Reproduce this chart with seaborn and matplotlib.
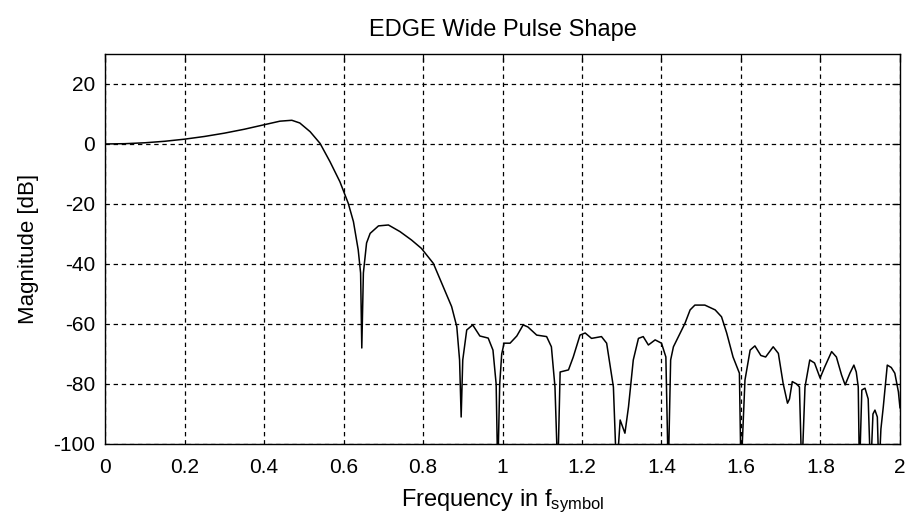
import seaborn as sns
import matplotlib.pyplot as plt
import numpy as np

# frequency (in f_symbol) and magnitude (dB)
freq = [0.00, 0.05, 0.10, 0.15, 0.20, 0.25, 0.30, 0.35, 0.40, 0.44, 0.47, 0.49,
        0.516, 0.541, 0.566, 0.591, 0.612, 0.625, 0.637, 0.643, 0.646, 0.650,
        0.658, 0.667, 0.688, 0.713, 0.742, 0.771, 0.796, 0.826, 0.851, 0.872,
        0.885, 0.892, 0.896, 0.900, 0.910, 0.925, 0.943, 0.964, 0.976, 0.984,
        0.988, 0.993, 0.998, 1.004, 1.019, 1.036, 1.052, 1.064, 1.086, 1.111,
        1.123, 1.132, 1.139, 1.145, 1.166, 1.178, 1.195, 1.208, 1.224, 1.249,
        1.262, 1.279, 1.287, 1.296, 1.308, 1.317, 1.329, 1.342, 1.354, 1.367,
        1.384, 1.400, 1.411, 1.417, 1.423, 1.430, 1.447, 1.459, 1.472, 1.484,
        1.509, 1.535, 1.551, 1.564, 1.580, 1.596, 1.600, 1.610, 1.623, 1.635,
        1.650, 1.662, 1.681, 1.694, 1.706, 1.717, 1.722, 1.729, 1.740, 1.747,
        1.753, 1.761, 1.773, 1.785, 1.799, 1.811, 1.828, 1.840, 1.853, 1.862,
        1.874, 1.884, 1.890, 1.895, 1.898, 1.904, 1.912, 1.920, 1.926, 1.932,
        1.937, 1.943, 1.947, 1.952, 1.958, 1.968, 1.978, 1.987, 1.996, 2.000]
mag_db = [0.0, 0.1, 0.4, 0.9, 1.6, 2.5, 3.6, 4.9, 6.4, 7.6, 7.9, 7.0,
          4.1, 0.2, -5.9, -12.6, -19.8, -25.9, -35.3, -43.0, -68.0, -43.0,
          -33.0, -29.8, -27.3, -27.0, -29.2, -32.0, -34.8, -39.8, -47.6, -54.2,
          -60.9, -72.0, -91.0, -72.0, -62.0, -60.3, -64.0, -64.7, -68.7, -80.0,
          -110.0, -80.0, -70.0, -66.4, -66.4, -64.0, -60.3, -61.0, -63.7, -64.2,
          -67.6, -81.0, -110.0, -76.0, -75.3, -71.0, -63.7, -63.0, -64.8, -64.2,
          -66.4, -81.0, -110.0, -92.0, -96.4, -87.6, -72.0, -64.8, -64.2, -67.0,
          -65.3, -66.4, -71.0, -110.0, -72.0, -67.6, -63.0, -59.8, -55.3, -53.7,
          -53.7, -55.3, -57.6, -63.0, -71.0, -76.4, -110.0, -78.7, -68.7, -67.3,
          -70.5, -71.0, -67.6, -69.8, -79.8, -86.4, -85.0, -79.2, -80.0, -81.0,
          -110.0, -81.0, -72.0, -73.0, -78.0, -74.2, -69.2, -71.0, -77.0, -80.3,
          -76.4, -73.7, -76.0, -81.0, -110.0, -82.0, -81.4, -85.0, -110.0, -90.0,
          -88.7, -91.0, -110.0, -95.0, -87.6, -73.7, -74.5, -76.4, -82.6, -88.0]

xticks = [0, 0.2, 0.4, 0.6, 0.8, 1, 1.2, 1.4, 1.6, 1.8, 2]
xticklabels = ["0", "0.2", "0.4", "0.6", "0.8", "1", "1.2", "1.4", "1.6", "1.8", "2"]
yticks = [-100, -80, -60, -40, -20, 0, 20]

sns.set_style("white")
plt.rcParams['font.family'] = ['Liberation Sans', 'DejaVu Sans']
plt.rcParams['mathtext.default'] = 'regular'
plt.rcParams['axes.unicode_minus'] = False
plt.rcParams['text.color'] = 'black'
plt.rcParams['axes.labelcolor'] = 'black'

fig = plt.figure(figsize=(9.1, 5.21), dpi=100)
ax = fig.add_axes([0.1154, 0.1478, 0.8736, 0.7486])

sns.lineplot(x=freq, y=mag_db, ax=ax, color="black", linewidth=1.1,
             estimator=None, sort=False)

ax.set_xlim(0, 2)
ax.set_ylim(-100, 30)
ax.set_xticks(xticks)
ax.set_xticklabels(xticklabels)
ax.set_yticks(yticks)
ax.grid(True, color="black", linestyle=(0, (3.5, 3)), linewidth=0.9)
ax.tick_params(direction="in", length=6, width=0.9, top=True, right=True,
               labelsize=15, colors="black")
ax.tick_params(axis="y", pad=7)
ax.tick_params(axis="x", pad=10)
for sp in ax.spines.values():
    sp.set_color("black")
    sp.set_linewidth(1.0)

ax.set_title("EDGE Wide Pulse Shape", fontsize=17, pad=13, color="black")
ax.set_xlabel("Frequency in f$_{symbol}$", fontsize=17, labelpad=8)
ax.set_ylabel("Magnitude [dB]", fontsize=16, labelpad=10)

fig.savefig("out.png", dpi=100)
